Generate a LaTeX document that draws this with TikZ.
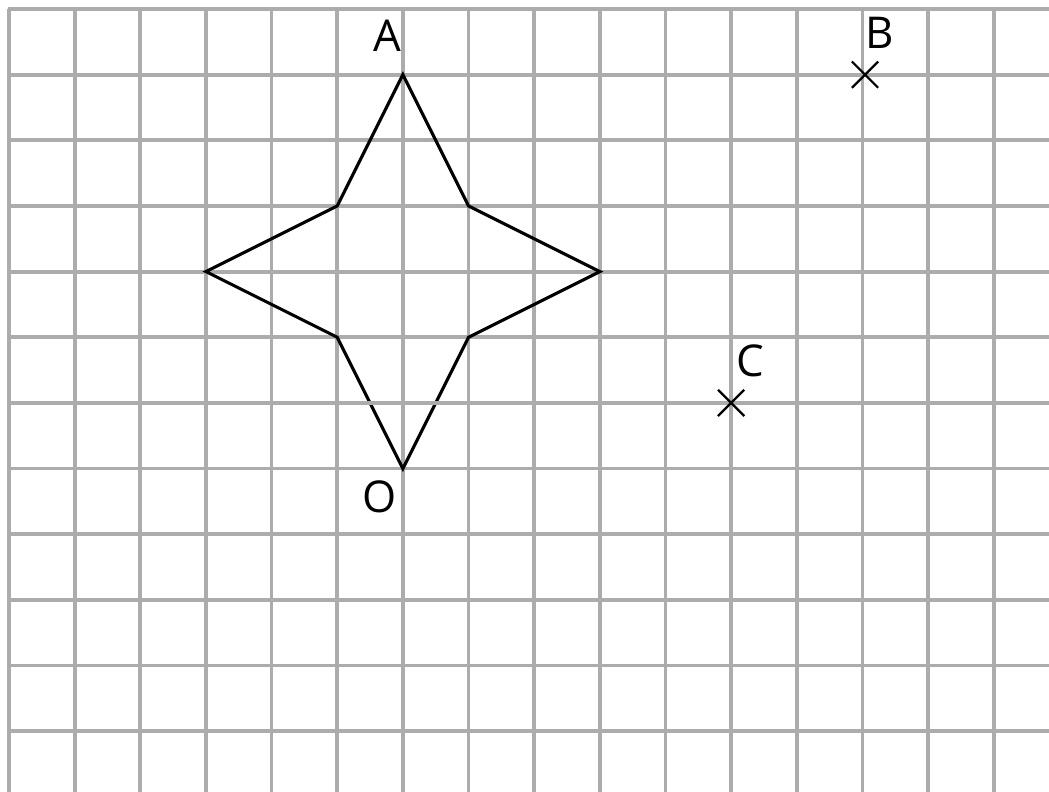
\documentclass[tikz,border=0pt]{standalone}
\usepackage{fontspec}
\setmainfont{Open Sans}
\usetikzlibrary{calc}
\definecolor{gridgray}{RGB}{172,172,172}
\begin{document}
\begin{tikzpicture}[x=1cm,y=1cm,
  gridline/.style={draw=gridgray,line width=1.65pt},
  starline/.style={draw=black,line width=1.35pt,line join=miter},
  crossline/.style={draw=black,line width=0.95pt},
  lbl/.style={inner sep=0pt,text depth=0pt,font=\fontsize{19}{22}\selectfont}]
\useasboundingbox (-0.137,0.137) rectangle (15.842,-11.912);
% grid
\foreach \i in {0,...,15} \draw[gridline] (\i,0) -- (\i,-11.95);
\foreach \j in {0,...,5,7,8,9,10,11} \draw[gridline] (-0.0125,-\j) -- (15.9,-\j);
% star
\coordinate (A) at (6,-1);
\coordinate (NE) at (7,-3);
\coordinate (E) at (9,-4);
\coordinate (SE) at (7,-5);
\coordinate (O) at (6,-7);
\coordinate (SW) at (5,-5);
\coordinate (W) at (3,-4);
\coordinate (NW) at (5,-3);
\draw[starline] (A) -- (NE) -- (E) -- (SE) -- (O) -- (SW) -- (W) -- (NW) -- cycle;
% this grid line lies over the star
\draw[gridline] (-0.0125,-6) -- (15.9,-6);
% crosses
\coordinate (B) at (13.04,-1);
\coordinate (C) at (11,-6);
\draw[crossline] ($(B)+(-0.2,0.2)$) -- ($(B)+(0.2,-0.2)$);
\draw[crossline] ($(B)+(-0.2,-0.2)$) -- ($(B)+(0.2,0.2)$);
\draw[crossline] ($(C)+(-0.2,0.2)$) -- ($(C)+(0.2,-0.2)$);
\draw[crossline] ($(C)+(-0.2,-0.2)$) -- ($(C)+(0.2,0.2)$);
% labels
\node[lbl] (lA) at (5.77,-0.41) {A};
\node[lbl] (lB) at (13.27,-0.37) {B};
\node[lbl] (lC) at (11.29,-5.36) {C};
\node[lbl] (lO) at (5.65,-7.43) {O};
\end{tikzpicture}
\end{document}
